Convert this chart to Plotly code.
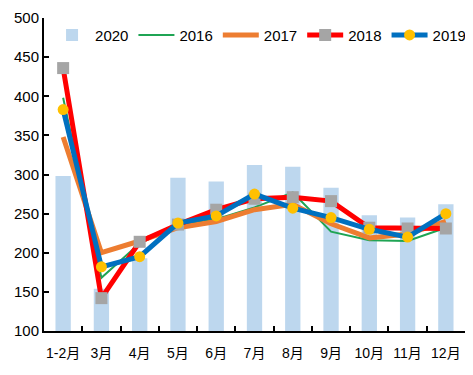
import plotly.graph_objects as go

months = ["1-2月", "3月", "4月", "5月", "6月", "7月", "8月", "9月", "10月", "11月", "12月"]
v2020 = [298, 154, 193, 296, 291, 312, 310, 283, 248, 245, 262]
v2016 = [398, 168, 212, 235, 243, 258, 277, 227, 216, 215, 232]
v2017 = [348, 200, 215, 232, 240, 255, 262, 237, 219, 224, 240]
v2018 = [436, 142, 214, 236, 255, 269, 271, 266, 232, 231, 231]
v2019 = [383, 182, 195, 238, 247, 275, 257, 245, 230, 220, 250]

FONT = "Liberation Sans, Noto Sans CJK SC, Arial, sans-serif"

fig = go.Figure()
fig.add_trace(go.Bar(x=months, y=[v - 100 for v in v2020], base=100, name="2020",
                     marker=dict(color="#BDD7EE", line=dict(width=0))))
fig.add_trace(go.Scatter(x=months, y=v2016, name="2016", mode="lines",
                         line=dict(color="#1FA454", width=2)))
fig.add_trace(go.Scatter(x=months, y=v2017, name="2017", mode="lines",
                         line=dict(color="#ED7D31", width=5)))
fig.add_trace(go.Scatter(x=months, y=v2018, name="2018", mode="lines+markers",
                         line=dict(color="#FF0000", width=5),
                         marker=dict(symbol="square", size=12, color="#A5A5A5")))
fig.add_trace(go.Scatter(x=months, y=v2019, name="2019", mode="lines+markers",
                         line=dict(color="#0070C0", width=5),
                         marker=dict(symbol="circle", size=11, color="#FFC000")))

fig.update_layout(
    width=473, height=375,
    margin=dict(l=36, r=16, t=10, b=52, autoexpand=False),
    paper_bgcolor="white", plot_bgcolor="white",
    font=dict(family=FONT, size=15, color="black"),
    bargap=0.6,
    showlegend=True,
    legend=dict(orientation="h", x=0.012, y=0.945, xanchor="left", yanchor="middle",
                bgcolor="rgba(0,0,0,0)", font=dict(size=15), itemwidth=36,
                traceorder="normal"),
    xaxis=dict(type="category", range=[-0.5, len(months) - 0.5],
               showline=True, linecolor="black", linewidth=2,
               ticks="inside", tickson="boundaries", ticklen=5, tickcolor="black",
               tickwidth=2, showgrid=False, zeroline=False, ticklabelstandoff=8,
               tickangle=0, tickfont=dict(size=14), automargin=False),
    yaxis=dict(range=[100, 500], dtick=50, showline=True, linecolor="black", linewidth=2,
               ticks="inside", ticklen=5, tickcolor="black", tickwidth=2,
               showgrid=False, zeroline=False, automargin=False,
               ticklabeloverflow="allow"),
)

fig.write_html("out.html")
